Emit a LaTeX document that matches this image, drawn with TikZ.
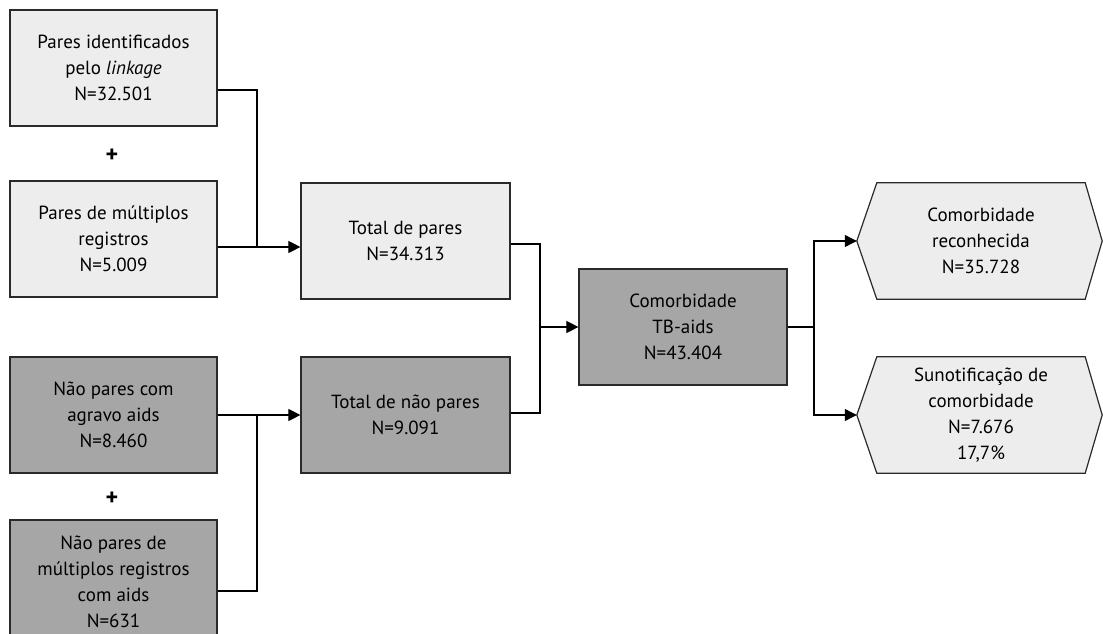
\documentclass[tikz,border=0pt]{standalone}
\usepackage{fontspec}
\setmainfont{PT Sans}
\usetikzlibrary{arrows.meta,backgrounds}
\definecolor{lightbox}{HTML}{EDEDED}
\definecolor{darkbox}{HTML}{A6A6A6}
\definecolor{edge}{HTML}{2A2A2A}
\tikzset{
  box/.style={draw=edge,line width=1.2pt,minimum width=207pt,minimum height=116pt,align=center,inner sep=0pt,font=\fontsize{19}{26}\selectfont},
  lbox/.style={box,fill=lightbox},
  dbox/.style={box,fill=darkbox},
  hexa/.style={minimum width=208pt,minimum height=116pt,align=center,inner sep=0pt,font=\fontsize{19}{26}\selectfont},
  conn/.style={draw=black,line width=1.1pt},
  arr/.style={conn,-{Triangle[length=12pt,width=12pt]}},
  plus/.style={font=\fontsize{24}{26}\selectfont\bfseries}
}
\begin{document}
\begin{tikzpicture}[x=1pt,y=-1pt]
\useasboundingbox (0,0) rectangle (1103,634);
\node[lbox] (p1) at (113.5,68) {Pares identificados\\pelo \textit{linkage}\\N=32.501};
\node[plus] (plus1) at (112,156) {+};
\node[lbox] (p2) at (113.5,239) {Pares de múltiplos\\registros\\N=5.009};
\node[dbox] (np1) at (113.5,415) {Não pares com\\agravo aids\\N=8.460};
\node[plus] (plus2) at (112,499) {+};
\node[dbox,minimum height=124pt] (np2) at (113.5,582) {Não pares de\\múltiplos registros\\com aids\\N=631};
\node[lbox,minimum width=209pt] (tp) at (405.5,241) {Total de pares\\N=34.313};
\node[dbox,minimum width=209pt] (tnp) at (405.5,415) {Total de não pares\\N=9.091};
\node[dbox,minimum width=208pt] (cb) at (683,327) {Comorbidade\\TB-aids\\N=43.404};
\node[hexa] (h1) at (981,241) {Comorbidade\\reconhecida\\N=35.728};
\node[hexa] (h2) at (981,415) {Sunotificação de\\comorbidade\\N=7.676\\17,7\%};
\begin{scope}[on background layer]
\fill[white] (0,0) rectangle (1103,634);
\foreach \h in {h1,h2}{
  \draw[draw=edge,line width=1.2pt,fill=lightbox]
    (\h.north west) -- (\h.north east) -- ([xshift=17pt]\h.east) -- (\h.south east)
    -- (\h.south west) -- ([xshift=-20pt]\h.west) -- cycle;
}
\end{scope}
\coordinate (j1) at (257,247);
\coordinate (j2) at (257,415);
\coordinate (j3) at (540,327);
\coordinate (j4) at (814,327);
\coordinate (h1tip) at ([xshift=-20pt]h1.west);
\coordinate (h2tip) at ([xshift=-20pt]h2.west);
\draw[conn] ([yshift=-22pt]p1.east) -| (j1);
\draw[arr] (p2.east |- j1) -- (tp.west |- j1);
\draw[arr] (np1.east) -- (tnp.west);
\draw[conn] ([yshift=-9pt]np2.east) -| (j2);
\draw[conn] ([yshift=-3pt]tp.east) -| (j3);
\draw[conn] ([yshift=2pt]tnp.east) -| (j3);
\draw[arr] (j3) -- (cb.west);
\draw[conn] (cb.east) -- (j4);
\draw[arr] (j4) |- (h1tip);
\draw[arr] (j4) |- (h2tip);
\end{tikzpicture}
\end{document}
